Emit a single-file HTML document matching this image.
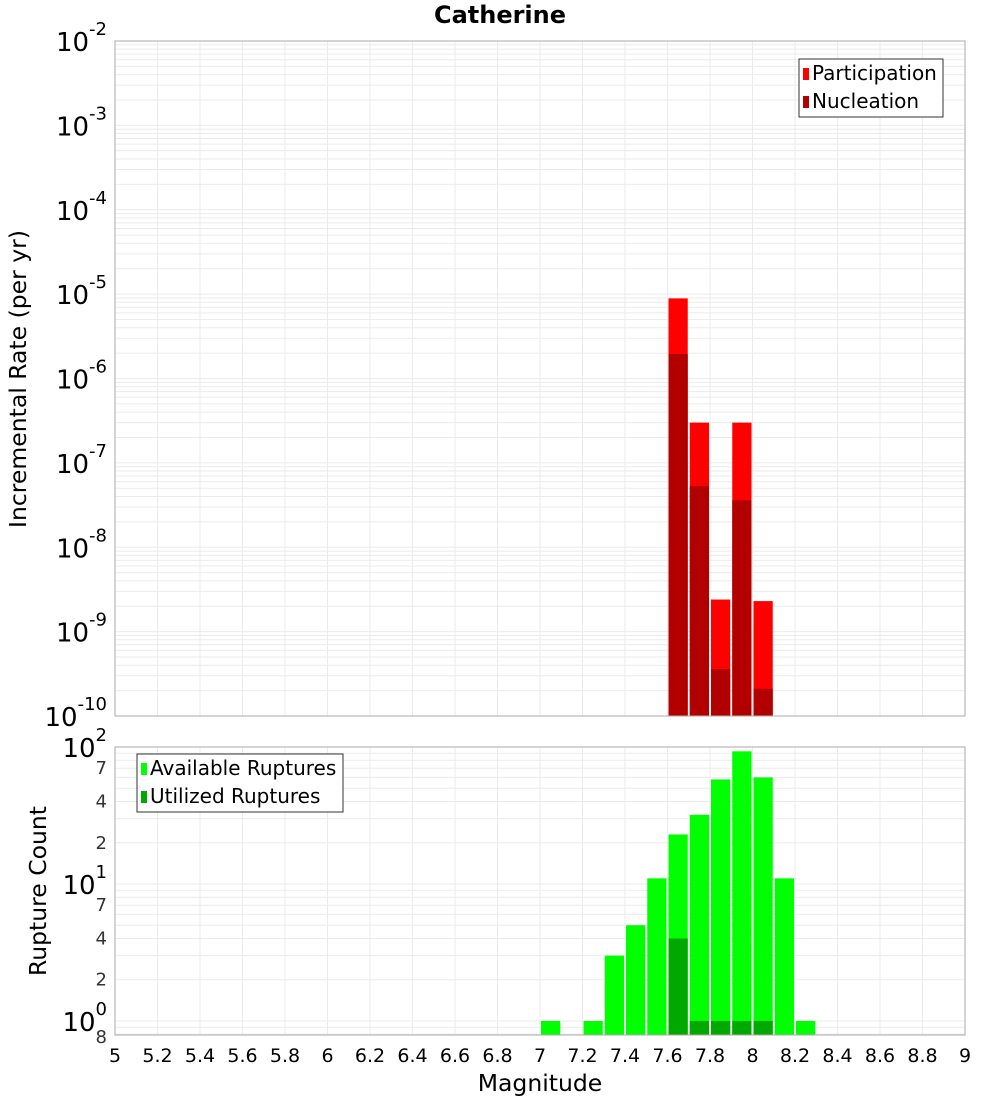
<!DOCTYPE html>
<html><head><meta charset="utf-8"><style>
body{margin:0;background:#fff;font-family:"DejaVu Sans","Liberation Sans",sans-serif}
svg text{font-family:"DejaVu Sans","Liberation Sans",sans-serif}
</style></head><body>
<svg id="c" width="1000" height="1100" xmlns="http://www.w3.org/2000/svg"></svg>
<script>
const mags=[7.6,7.7,7.8,7.9,8.0];
const participation=[8.9e-6,3e-7,2.4e-9,3e-7,2.3e-9];
const nucleation=[1.95e-6,5.3e-8,3.6e-10,3.6e-8,2.1e-10];
const countMags=[7.0,7.2,7.3,7.4,7.5,7.6,7.7,7.8,7.9,8.0,8.1,8.2];
const available=[1,1,3,5,11,23,32,58,93,60,11,1];
const utilMags=[7.6,7.7,7.8,7.9,8.0];
const utilized=[4,1,1,1,1];
const xTicks=[5,5.2,5.4,5.6,5.8,6,6.2,6.4,6.6,6.8,7,7.2,7.4,7.6,7.8,8,8.2,8.4,8.6,8.8,9];
const topExps=[-2,-3,-4,-5,-6,-7,-8,-9,-10];
const botMinor=[2,4,7];

const S='http://www.w3.org/2000/svg', svg=document.getElementById('c');
function el(t,a,p){const e=document.createElementNS(S,t);for(const k in a)e.setAttribute(k,a[k]);(p||svg).appendChild(e);return e;}
const L=115,R=965;
const X=v=>L+(v-5)/4*(R-L);
const T1=41,B1=716; const Y1=v=>B1-(Math.log10(v)+10)/8*(B1-T1);
const T2=747,B2=1035; const lmin=Math.log10(0.79); const Y2=v=>B2-(Math.log10(v)-lmin)/(2-lmin)*(B2-T2);

function grid(top,bot,Yf,lo,hi){
  for(let d=lo;d<hi;d++)for(let m=1;m<10;m++){const v=m*Math.pow(10,d);const y=Yf(v);if(y<top||y>bot)continue;
    const g=el('line',{x1:L,x2:R,y1:y,y2:y,stroke:'#ebebeb','stroke-width':1});
    }
  xTicks.forEach(t=>{const x=X(t);const g=el('line',{x1:x,x2:x,y1:top,y2:bot,stroke:'#ebebeb','stroke-width':1});
    });
}
grid(T1,B1,Y1,-10,-2);
grid(T2,B2,Y2,-1,2);

const bw=X(5.1)-X(5)-2;
function bar(m,v,Yf,bot,col,name){const y=Yf(v);const r=el('rect',{x:X(m)+1,y:y,width:bw,height:bot-y,fill:col});
  }
mags.forEach((m,i)=>bar(m,participation[i],Y1,B1,'#ff0000','participation-bar'));
mags.forEach((m,i)=>bar(m,nucleation[i],Y1,B1,'#b20000','nucleation-bar'));
countMags.forEach((m,i)=>bar(m,available[i],Y2,B2,'#00ff00','available-bar'));
utilMags.forEach((m,i)=>bar(m,utilized[i],Y2,B2,'#00a800','utilized-bar'));

[[T1,B1,'top-plot-frame'],[T2,B2,'bottom-plot-frame']].forEach(([t,b,n])=>{const r=el('rect',{x:L,y:t,width:R-L,height:b-t,fill:'none',stroke:'#aaaaaa'});
  });

function powLabel(y,exp,name){const t=el('text',{x:107,y:y+10,'font-size':26,'text-anchor':'end',fill:'#000'});
  
  t.textContent='10';const s=el('tspan',{dy:-16,'font-size':18},t);s.textContent=String(exp);}
topExps.forEach(e=>powLabel(Y1(Math.pow(10,e)),e,'y-tick-label'));
[0,1,2].forEach(e=>powLabel(Y2(Math.pow(10,e)),e,'y-tick-label'));
[0,1].forEach(d=>botMinor.forEach(m=>{const t=el('text',{x:107,y:Y2(m*Math.pow(10,d))+6,'font-size':18,'text-anchor':'end',fill:'#333'});
  t.textContent=m;}));
{const t=el('text',{x:107,y:1043,'font-size':18,'text-anchor':'end',fill:'#333'});t.textContent='8';}

xTicks.forEach(v=>{const t=el('text',{x:X(v),y:1062,'font-size':19,'text-anchor':'middle',fill:'#000'});
  t.textContent=String(v);});

function txt(s,a,n){const t=el('text',a);t.textContent=s;return t;}
txt('Catherine',{x:500,y:23,'font-size':24,'font-weight':'bold','text-anchor':'middle'},'chart-title');
txt('Magnitude',{x:540,y:1091,'font-size':23.5,'text-anchor':'middle'},'x-axis-title');
txt('Incremental Rate (per yr)',{x:0,y:0,'font-size':23.5,'text-anchor':'middle',transform:'translate(26,379) rotate(-90)'},'y-axis-title-top');
txt('Rupture Count',{x:0,y:0,'font-size':23.5,'text-anchor':'middle',transform:'translate(46,891) rotate(-90)'},'y-axis-title-bottom');

function legend(x,y,w,items,n){const g=el('g',{});
  el('rect',{x:x,y:y,width:w,height:58,fill:'#fff',stroke:'#333'},g);
  items.forEach(([lab,col],i)=>{el('rect',{x:x+4,y:y+9+i*28,width:6,height:12,fill:col},g);
    const t=el('text',{x:x+13,y:y+21+i*28,'font-size':20},g);t.textContent=lab;});}
legend(799,59,144,[['Participation','#ff0000'],['Nucleation','#b20000']],'legend-top');
legend(137,754,206,[['Available Ruptures','#00ff00'],['Utilized Ruptures','#00a800']],'legend-bottom');
</script>
</body></html>
